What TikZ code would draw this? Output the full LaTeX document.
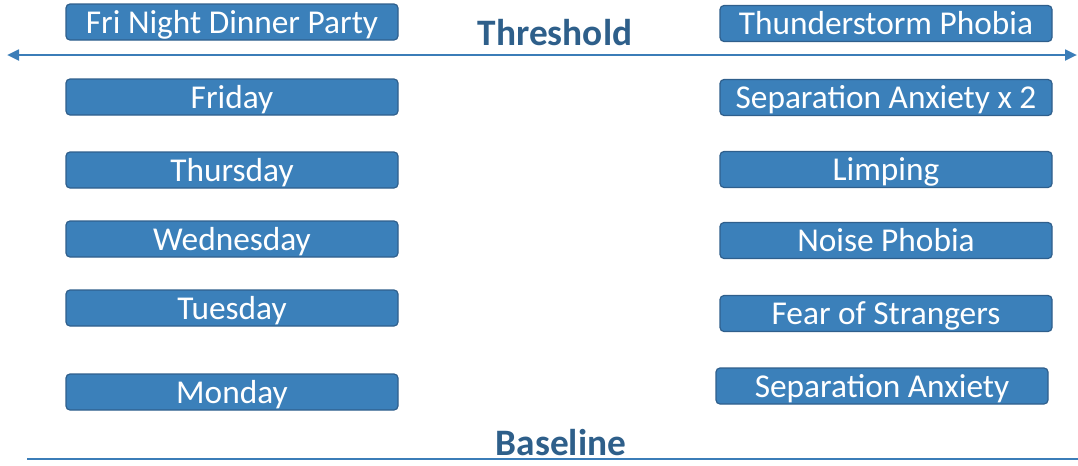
\documentclass[tikz,border=0pt]{standalone}
\usepackage{fontspec}
\setmainfont{Carlito}
\usetikzlibrary{arrows.meta}
\definecolor{boxfill}{HTML}{3B80BA}
\definecolor{boxline}{HTML}{2F5F8C}
\definecolor{linecol}{HTML}{3B7DB8}
\definecolor{labcol}{HTML}{2E5F8A}
\tikzset{
  item/.style={draw=boxline, line width=0.9pt, fill=boxfill, rounded corners=3pt,
    minimum width=332*0.75pt, minimum height=36*0.75pt, inner sep=0pt,
    text height=20pt, text depth=3.5pt,
    text=white, font=\fontsize{25}{27}\selectfont},
  lab/.style={text=labcol, font=\bfseries\fontsize{28}{30}\selectfont, inner sep=0pt},
  rule/.style={draw=linecol, line width=2pt}
}
\begin{document}
\begin{tikzpicture}[x=0.75pt, y=-0.75pt]
\useasboundingbox (0,0) rectangle (1078,465);
% left column
\node[item] (fri2) at (232,22) {Fri Night Dinner Party};
\node[item] (fri)  at (232,97) {Friday};
\node[item] (thu)  at (232,170) {Thursday};
\node[item] (wed)  at (232,239) {Wednesday};
\node[item] (tue)  at (232,308) {Tuesday};
\node[item] (mon)  at (232,392) {Monday};
% right column
\node[item] (thp)  at (886,23.5) {Thunderstorm Phobia};
\node[item] (sa2)  at (886,97.5) {Separation Anxiety x 2};
\node[item] (limp) at (886,169.5) {Limping};
\node[item] (noi)  at (886,240.5) {Noise Phobia};
\node[item] (fos)  at (886,313.5) {Fear of Strangers};
\node[item] (sa)   at (882,386) {Separation Anxiety};
% threshold
\coordinate (tl) at (7,55);
\coordinate (tr) at (1077,55);
\draw[rule, {Triangle[length=9pt,width=8pt]}-{Triangle[length=9pt,width=8pt]}] (tl) -- (tr);
\node[lab] (thr) at (555,33) {Threshold};
% baseline
\coordinate (bl) at (27,459);
\coordinate (br) at (1078,459);
\draw[rule] (bl) -- (br);
\node[lab] (base) at (561,443) {Baseline};
\end{tikzpicture}
\end{document}
